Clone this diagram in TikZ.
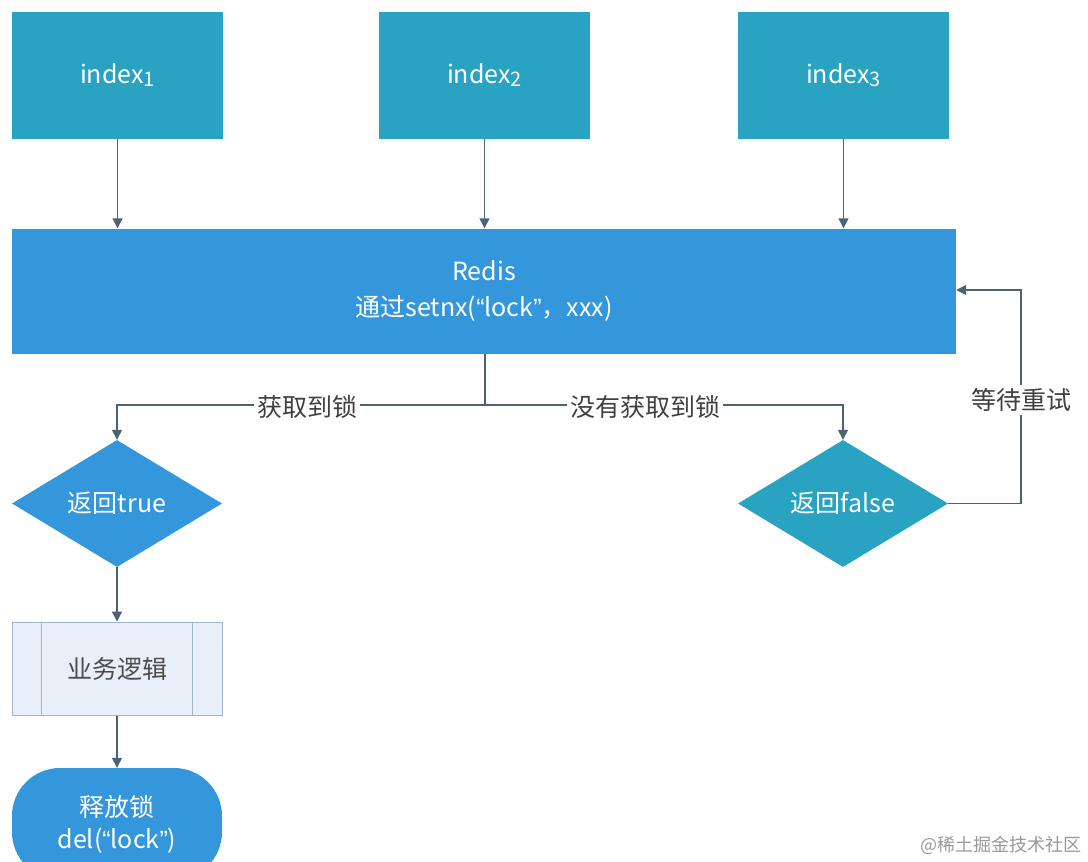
\documentclass[tikz,border=0pt]{standalone}
\usepackage{fontspec}
\setmainfont{Noto Sans CJK SC}
\newfontfamily\latinq{Liberation Sans}
\usetikzlibrary{shapes.geometric,arrows.meta}
\definecolor{tealbox}{HTML}{2AA2C2}
\definecolor{bluebox}{HTML}{3597DB}
\definecolor{edgecol}{HTML}{4A6475}
\definecolor{procfill}{HTML}{E9EFF8}
\definecolor{procline}{HTML}{A3B3C9}
\newcommand{\idxsub}[1]{\raisebox{-3pt}{\fontsize{20pt}{22pt}\selectfont #1}}
\newcommand{\myopq}{{\latinq “}}
\newcommand{\myclq}{{\latinq ”}}
\begin{document}
\begin{tikzpicture}[x=1pt,y=-1pt,
  every node/.style={font=\fontsize{25pt}{36pt}\selectfont, text=white, inner sep=0pt},
  idxbox/.style={rectangle, fill=tealbox, minimum width=211pt, minimum height=127pt},
  redisbox/.style={rectangle, fill=bluebox, minimum width=944pt, minimum height=125pt, align=center},
  decbox/.style={diamond, shape aspect=1.65, minimum width=210pt, minimum height=127pt},
  procbox/.style={rectangle, draw=procline, line width=1pt, fill=procfill, minimum width=210pt, minimum height=93pt, text=black!70},
  termbox/.style={rectangle, rounded corners=48pt, fill=bluebox, minimum width=210pt, minimum height=112pt, align=center},
  conn/.style={draw=edgecol, line width=1.4pt},
  arr/.style={conn, -{Triangle[length=10pt,width=10pt]}},
  lbl/.style={fill=white, text=black!75, inner sep=3pt, font=\fontsize{25pt}{28pt}\selectfont}
]
\useasboundingbox (0,0) rectangle (1088,862);
\clip (0,0) rectangle (1088,862);

% top boxes
\node[idxbox] (i1) at (117.5,75.5) {index\idxsub{1}};
\node[idxbox] (i2) at (484.5,75.5) {index\idxsub{2}};
\node[idxbox] (i3) at (843.5,75.5) {index\idxsub{3}};

% redis
\node[redisbox] (redis) at (484,291) {Redis\\通过setnx(\myopq lock\myclq，xxx)};

\draw[arr] (i1.south) -- (i1.south |- redis.north);
\draw[arr] (i2.south) -- (i2.south |- redis.north);
\draw[arr] (i3.south) -- (i3.south |- redis.north);

% decisions
\node[decbox, fill=bluebox] (tdia) at (117,503.5) {返回true};
\node[decbox, fill=tealbox] (fdia) at (843,503.5) {返回false};

\coordinate (split) at (485,405);
\coordinate (lt) at (117,405);
\coordinate (rt) at (843,405);
\draw[conn] (split |- redis.south) -- (split);
\draw[arr] (split) -- (lt) -- (tdia.north);
\draw[arr] (split) -- (rt) -- (fdia.north);
\node[lbl] (lg) at (307,407) {获取到锁};
\node[lbl] (ln) at (645,407) {没有获取到锁};

% retry loop
\coordinate (r1) at (1021,503.5);
\coordinate (r2) at (1021,290);
\draw[arr] (fdia.east) -- (r1) -- (r2) -- (redis.east |- r2);
\node[lbl] (wait) at (1021,400) {等待重试};

% process
\node[procbox] (proc) at (117,668.5) {业务逻辑};
\draw[procline, line width=1pt] ([xshift=30pt]proc.north west) -- ([xshift=30pt]proc.south west);
\draw[procline, line width=1pt] ([xshift=-30pt]proc.north east) -- ([xshift=-30pt]proc.south east);
\draw[arr] (tdia.south) -- (proc.north);

% terminal
\node[termbox] (term) at (117,824) {释放锁\\[-4pt]del(\myopq lock\myclq)};
\draw[arr] (proc.south) -- (term.north);

% watermark
\node[text=black!40, font=\fontsize{18pt}{20pt}\selectfont] (wm) at (1001,845) {@稀土掘金技术社区};
\end{tikzpicture}
\end{document}
